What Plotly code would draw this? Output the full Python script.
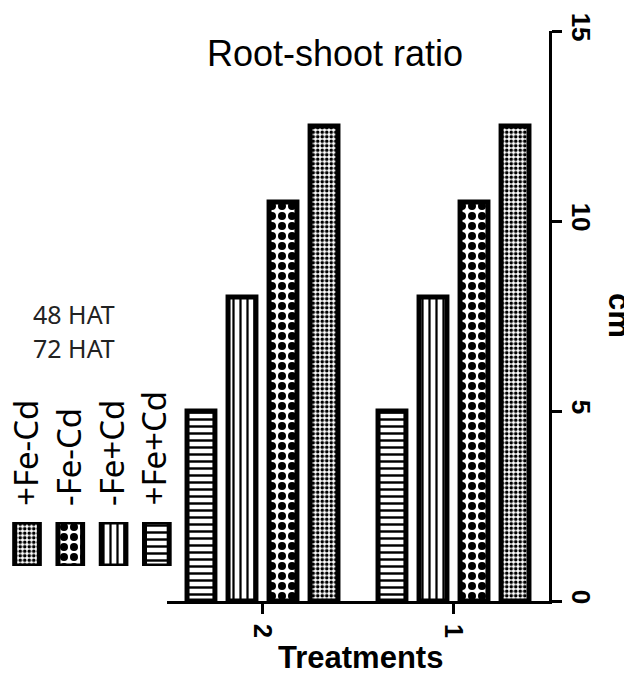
import plotly.graph_objects as go

# ---- data ----
categories = ["2", "1"]
series_names = ["+Fe+Cd", "-Fe+Cd", "-Fe-Cd", "+Fe-Cd"]
fe_plus_cd_plus = [5, 5]
fe_minus_cd_plus = [8, 8]
fe_minus_cd_minus = [10.5, 10.5]
fe_plus_cd_minus = [12.5, 12.5]
y_ticks = [0, 5, 10, 15]
legend_order = ["+Fe-Cd", "-Fe-Cd", "-Fe+Cd", "+Fe+Cd"]
legend_notes = ["48 HAT", "72 HAT"]

series_values = [fe_plus_cd_plus, fe_minus_cd_plus, fe_minus_cd_minus, fe_plus_cd_minus]

# ---- geometry (page pixels; the page body adds an 8px offset) ----
OFF = 8
W, H = 632 - OFF, 673 - OFF
PLOT_R, PLOT_T, PLOT_B = 549, 31, 601   # page coords of the paper area
ML = 0
MR = W - (PLOT_R - OFF)
MT = PLOT_T - OFF
MB = H - (PLOT_B - OFF)
PW = W - ML - MR
PH = H - MT - MB

def px(x):
    return (x - OFF - ML) / PW

def py(y):
    return (PLOT_B - y) / PH

patterns = {
    "+Fe+Cd": dict(shape="-", size=7, solidity=0.35),
    "-Fe+Cd": dict(shape="|", size=7, solidity=0.32),
    "-Fe-Cd": dict(shape=".", size=10, solidity=0.5),
    "+Fe-Cd": dict(shape=".", size=4.5, solidity=0.5),
}

fig = go.Figure()
for name, vals in zip(series_names, series_values):
    p = patterns[name]
    fig.add_trace(go.Bar(
        x=categories, y=vals, name=name,
        marker=dict(color="white",
                    line=dict(color="black", width=5),
                    pattern=dict(shape=p["shape"], size=p["size"], solidity=p["solidity"],
                                 fgcolor="black", bgcolor="white", fillmode="replace")),
        showlegend=False, cliponaxis=False,
    ))

# legend swatches drawn as bars in a small separate subplot
SW_UNIT = 43.25
fig.add_trace(go.Bar(
    x=list(range(len(legend_order))), y=[1] * len(legend_order),
    xaxis="x2", yaxis="y2", width=0.57, cliponaxis=False, showlegend=False,
    marker=dict(color="white", line=dict(color="black", width=5),
                pattern=dict(shape=[patterns[n]["shape"] for n in legend_order],
                             size=[patterns[n]["size"] for n in legend_order],
                             solidity=[patterns[n]["solidity"] for n in legend_order],
                             fgcolor="black", bgcolor="white", fillmode="replace")),
    hoverinfo="skip",
))

bold = dict(family="Liberation Sans", color="black", weight="bold")

fig.update_layout(
    width=W, height=H,
    margin=dict(l=ML, r=MR, t=MT, b=MB, autoexpand=False),
    paper_bgcolor="white", plot_bgcolor="rgba(0,0,0,0)",
    barmode="group", bargap=0.141, bargroupgap=0.32,
    xaxis=dict(domain=[px(167), 1], range=[-0.5, 1.5], type="category",
               showline=True, linecolor="black", linewidth=3,
               ticks="outside", ticklen=10, tickwidth=3, tickcolor="black",
               tickangle=90, tickfont=dict(size=25, **bold), ticklabelstandoff=5,
               showgrid=False, zeroline=False),
    yaxis=dict(side="right", range=[0, 15], tickvals=y_ticks,
               showline=True, linecolor="black", linewidth=3,
               ticks="outside", ticklen=10, tickwidth=3, tickcolor="black",
               tickangle=90, tickfont=dict(size=26, **bold),
               showgrid=False, zeroline=False),
    xaxis2=dict(domain=[px(9), px(178.5)], range=[(9 - 27) / SW_UNIT, 3.5], anchor="y2",
                visible=False),
    yaxis2=dict(domain=[py(566), py(522)], range=[0, 1], anchor="x2",
                visible=False),
)

annotations = [
    dict(text="Root-shoot ratio", x=px(335), y=py(53),
         font=dict(family="Liberation Sans", size=36, color="black")),
    dict(text="Treatments", x=px(360), y=py(657), height=30, font=dict(size=31, **bold)),
    dict(text="cm", x=px(619), y=py(315), textangle=90, height=28,
         font=dict(size=31, **bold)),
]
for i, note in enumerate(legend_notes):
    annotations.append(dict(text=note, x=px(74), y=py(314 + 34 * i),
                            font=dict(family="Noto Sans", size=25, color="#222222")))
label_x = [25, 68, 111, 154]
for lx, name in zip(label_x, legend_order):
    annotations.append(dict(text=name, x=px(lx), y=py(508), textangle=-90,
                            yanchor="bottom", height=32,
                            font=dict(family="Noto Sans", size=33, color="black")))
for a in annotations:
    a.setdefault("xref", "paper")
    a.setdefault("yref", "paper")
    a.setdefault("showarrow", False)
    a.setdefault("xanchor", "center")
    a.setdefault("yanchor", "middle")
fig.update_layout(annotations=annotations)

fig.write_html("out.html")
